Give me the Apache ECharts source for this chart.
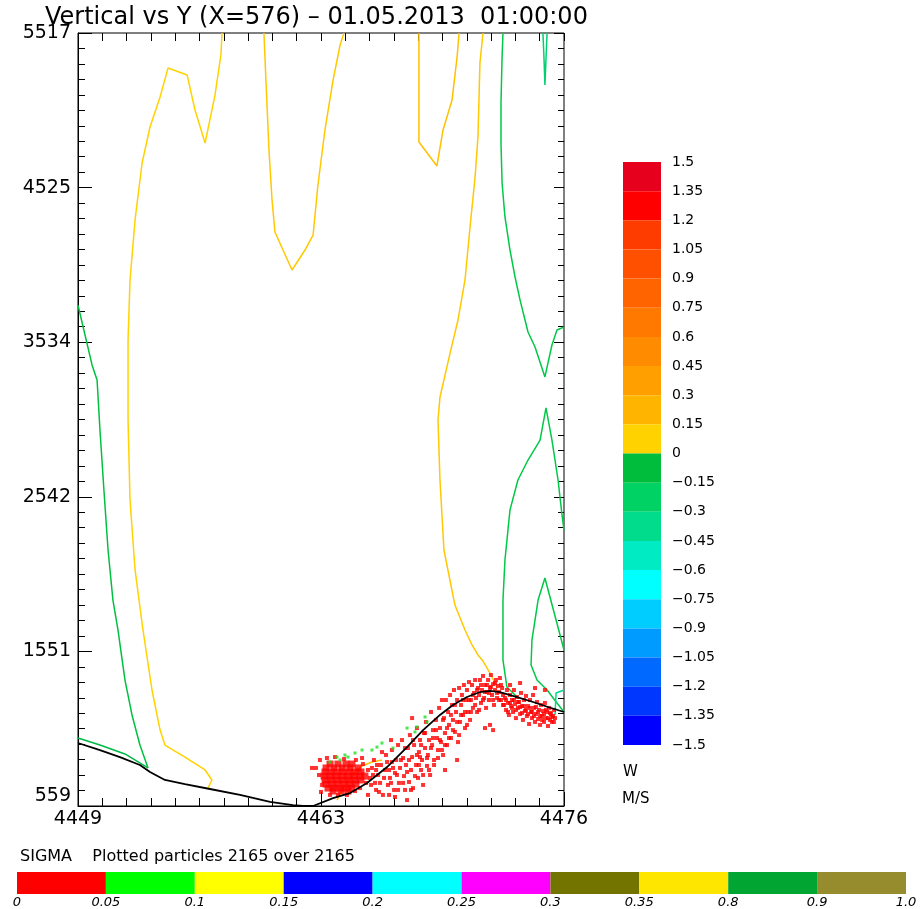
<!DOCTYPE html>
<html><head><meta charset="utf-8">
<script src="https://cdn.jsdelivr.net/npm/echarts@6/dist/echarts.min.js"></script>
<style>html,body{margin:0;padding:0;background:#fff}#c{width:922px;height:909px}</style>
</head><body><div id="c"></div>
<script>
// ---------- axis ranges & tick labels ----------
const X_MIN = 4449, X_MAX = 4476, Y_MIN = 559, Y_MAX = 5517;
const xTickLabels = ['4449', '4463', '4476'];
const yTickLabels = ['559', '1551', '2542', '3534', '4525', '5517'];

// ---------- W colour scale ----------
const cbLevels = [1.5, 1.35, 1.2, 1.05, 0.9, 0.75, 0.6, 0.45, 0.3, 0.15, 0, -0.15, -0.3, -0.45, -0.6, -0.75, -0.9, -1.05, -1.2, -1.35, -1.5];
const cbLabels = ['1.5', '1.35', '1.2', '1.05', '0.9', '0.75', '0.6', '0.45', '0.3', '0.15', '0', '\u22120.15', '\u22120.3', '\u22120.45', '\u22120.6', '\u22120.75', '\u22120.9', '\u22121.05', '\u22121.2', '\u22121.35', '\u22121.5'];
const cbColors = ['#E6001E', '#FF0000', '#FF3C00', '#FF5000', '#FF6400', '#FF7800', '#FF8C00', '#FFA000', '#FFB400', '#FFD200',
                  '#00BE3C', '#00D264', '#00DC8C', '#00EBC3', '#00FFFF', '#00CDFF', '#009BFF', '#0069FF', '#0037FF', '#0000FF'];

// ---------- SIGMA legend ----------
const sigmaLabels = ['0', '0.05', '0.1', '0.15', '0.2', '0.25', '0.3', '0.35', '0.8', '0.9', '1.0'];
const sigmaColors = ['#FF0000', '#00FF00', '#FFFF00', '#0000FF', '#00FFFF', '#FF00FF', '#737300', '#FFE600', '#00A532', '#968C2D'];

// ---------- bottom (terrain) line ----------
const terrain = [[4449,963],[4450.22,918],[4451.33,873],[4452.44,822],[4453.0,777],[4453.83,726],[4454.94,700],[4456.33,668],[4458.0,630],[4459.67,585],[4460.94,565],[4461.5,559],[4462.06,559],[4463.17,610],[4464.11,642],[4465.06,707],[4466.17,809],[4467.28,937],[4468.17,1046],[4469.11,1143],[4469.83,1207],[4470.61,1258],[4471.33,1290],[4471.89,1297],[4472.44,1290],[4473.39,1258],[4474.28,1226],[4475.11,1194],[4476,1162]];

// ---------- W = 0 contours (yellow) ----------
const zeroA = [[4457.0,5517],[4456.94,5376],[4456.61,5119],[4456.06,4811],[4455.5,5023],[4455.06,5248],[4454.0,5292],[4453.56,5107],[4453.0,4914],[4452.56,4683],[4452.17,4318],[4451.89,3933],[4451.78,3548],[4451.78,3035],[4451.89,2522],[4452.17,2073],[4452.61,1688],[4453.11,1303],[4453.56,1046],[4453.83,950],[4454.94,873],[4456.06,790],[4456.44,726],[4456.22,674]];
const zeroB = [[4459.33,5517],[4459.44,5215],[4459.61,4767],[4459.78,4446],[4459.94,4241],[4460.89,3997],[4461.61,4125],[4462.06,4221],[4462.33,4542],[4462.72,4895],[4463.17,5215],[4463.56,5440],[4463.78,5517]];
const zeroC = [[4467.94,5517],[4467.94,4818],[4468.94,4664],[4469.28,4895],[4469.78,5087],[4470.06,5363],[4470.17,5517]];
const zeroD = [[4471.5,5517],[4471.33,5325],[4471.22,4850],[4471.06,4593],[4470.78,4273],[4470.5,3933],[4470.11,3676],[4469.67,3464],[4469.11,3182],[4469.0,3035],[4469.11,2650],[4469.33,2201],[4469.94,1848],[4470.5,1688],[4470.89,1592],[4471.22,1528],[4471.5,1489],[4471.89,1412],[4472.28,1316]];
const zeroE = [[4463.39,597],[4463.67,662],[4464.0,719],[4464.39,777],[4464.78,816],[4465.33,841],[4465.89,854]];

// ---------- W = -0.15 contours (green) ----------
const negBottom = [[4449,995],[4450.22,950],[4451.61,893],[4452.89,803]];
const negA = [[4449,3772],[4449.39,3580],[4449.78,3388],[4450.06,3291],[4450.22,2971],[4450.44,2586],[4450.67,2201],[4450.94,1880],[4451.22,1688],[4451.61,1367],[4452.0,1143],[4452.44,950],[4452.89,803]];
const negB = [[4472.61,5517],[4472.56,5363],[4472.5,5068],[4472.5,4811],[4472.56,4555],[4472.72,4337],[4473.0,4125],[4473.28,3952],[4473.56,3804],[4474.0,3599],[4474.39,3503],[4474.94,3311],[4475.33,3516],[4475.61,3612],[4476,3631]];
const negC = [[4474.83,5517],[4474.89,5350],[4474.94,5183],[4475.0,5350],[4475.06,5517]];
const negD = [[4476,2329],[4475.89,2425],[4475.67,2650],[4475.33,2906],[4475.0,3112],[4474.67,2906],[4474.0,2778],[4473.44,2650],[4473.0,2458],[4472.72,2137],[4472.61,1880],[4472.61,1495],[4472.83,1322],[4473.39,1258]];
const negE = [[4476,1560],[4475.56,1752],[4474.94,2021],[4474.56,1880],[4474.22,1624],[4474.17,1463],[4474.5,1367],[4475.06,1303],[4475.61,1220],[4476,1162]];
// ---------- W = -0.3 contour (teal) ----------
const negF = [[4476,1303],[4475.56,1284],[4475.5,1143]];

// ---------- particles ----------
const particlesCore = [[4463.0,828],[4463.44,828],[4463.89,828],[4464.22,828],
 [4462.78,803],[4463.22,803],[4463.67,803],[4464.11,803],[4464.56,803],
 [4462.72,777],[4463.06,777],[4463.39,777],[4463.72,777],[4464.06,777],[4464.39,777],[4464.72,777],
 [4462.67,751],[4463.0,751],[4463.33,751],[4463.67,751],[4464.0,751],[4464.33,751],[4464.67,751],[4464.94,751],
 [4462.72,726],[4463.06,726],[4463.39,726],[4463.72,726],[4464.06,726],[4464.39,726],[4464.72,726],
 [4462.78,700],[4463.11,700],[4463.44,700],[4463.78,700],[4464.11,700],[4464.44,700],
 [4462.89,674],[4463.22,674],[4463.56,674],[4463.89,674],[4464.22,674],
 [4463.17,655],[4463.61,655],[4464.0,655]];
const particlesRed = [
 [4462.22,803],[4462.44,854],[4462.56,694],[4462.5,649],[4462.83,867],[4463.28,873],[4463.78,860],[4464.44,854],[4464.83,828],[4465.11,790],[4465.0,707],[4464.67,674],[4464.39,655],[4463.94,630],[4463.44,630],[4463.0,630],[4462.39,758],[4464.78,867],[4465.22,739],[4465.33,803],[4462.0,803],
 [4465.44,854],[4465.56,662],[4465.67,758],[4465.78,707],[4465.89,905],[4465.94,630],[4466.06,790],[4466.17,841],[4466.22,694],[4466.33,739],[4466.44,918],[4466.5,803],[4466.56,662],[4466.67,854],[4466.72,758],[4466.78,950],[4466.83,707],[4466.89,803],[4465.56,790],[4465.83,822],[4466.28,630],[4466.61,617],[4466.39,982],
 [4467.0,982],[4467.06,867],[4467.11,751],[4467.17,662],[4467.22,822],[4467.33,931],[4467.39,713],[4467.44,1014],[4467.5,790],[4467.56,873],[4467.61,674],[4467.67,950],[4467.78,822],[4467.83,1059],[4467.89,739],[4467.94,905],[4468.0,982],[4468.06,790],[4468.11,854],[4468.17,694],[4468.22,1027],[4468.28,931],[4468.33,1098],[4468.39,816],[4468.44,886],[4468.5,982],[4468.56,758],[4467.56,1123],[4468.0,873],[4467.28,597],
 [4468.61,1162],[4468.67,950],[4468.72,1046],[4468.78,854],[4468.89,1111],[4468.94,995],[4469.0,918],[4469.06,1188],[4469.11,1059],[4469.17,969],[4469.22,1239],[4469.28,886],[4469.33,1123],[4469.39,1027],[4469.44,1239],[4469.5,950],[4469.56,1162],[4469.61,1079],[4469.67,1271],[4469.72,995],[4469.78,1207],[4469.83,1111],[4469.89,1303],[4469.94,1034],[4470.0,1162],[4470.06,1239],[4470.11,969],[4470.17,1316],[4470.22,1098],[4470.28,1207],[4470.33,1271],[4470.39,1143],[4470.44,1335],[4470.5,1059],[4470.56,1239],[4470.61,1303],[4470.67,1162],[4470.72,1354],[4470.78,1111],[4470.06,854],[4469.39,790],
 [4470.83,1239],[4470.89,1335],[4470.94,1188],[4471.0,1284],[4471.06,1367],[4471.11,1252],[4471.17,1162],[4471.22,1316],[4471.28,1271],[4471.33,1367],[4471.39,1220],[4471.44,1303],[4471.5,1393],[4471.56,1252],[4471.61,1335],[4471.67,1188],[4471.72,1290],[4471.78,1367],[4471.83,1239],[4471.89,1316],[4471.94,1399],[4472.0,1271],[4472.06,1341],[4472.11,1207],[4472.17,1303],[4472.22,1367],[4472.28,1252],[4472.33,1329],[4472.39,1290],[4472.44,1380],[4472.5,1239],[4472.56,1316],[4472.61,1207],[4471.89,1079],[4471.61,1059],[4472.06,1046],
 [4472.72,1252],[4472.78,1175],[4472.83,1303],[4472.89,1220],[4472.94,1143],[4473.0,1271],[4473.06,1200],[4473.11,1239],[4473.17,1162],[4473.22,1303],[4473.28,1213],[4473.33,1123],[4473.39,1258],[4473.44,1188],[4473.5,1226],[4473.56,1149],[4473.61,1284],[4473.67,1200],[4473.72,1111],[4473.78,1239],[4473.83,1168],[4473.89,1265],[4473.94,1136],[4474.0,1200],[4474.06,1085],[4474.11,1239],[4474.17,1162],[4474.22,1123],[4474.28,1271],[4474.33,1188],[4474.39,1098],[4474.44,1149],[4474.5,1226],[4474.56,1117],[4474.61,1175],[4474.67,1079],[4474.72,1207],[4474.78,1136],[4474.83,1168],[4474.89,1098],[4474.94,1220],[4475.0,1123],[4475.06,1162],[4475.11,1072],[4475.17,1188],[4475.22,1111],[4475.28,1149],[4475.33,1098],[4475.39,1136],[4475.44,1175],[4475.5,1123],[4473.56,1348],[4474.39,1316],[4474.94,1303],[4473.0,1335],
 [4465.11,630],[4465.28,694],[4465.39,758],[4465.5,707],[4465.61,822],[4465.72,649],[4466.0,739],[4466.11,886],[4466.28,790],[4466.39,707],[4466.44,841],[4466.61,771],[4466.78,662],[4466.94,854],[4467.06,707],[4467.17,931],[4467.28,777],[4467.39,854],[4467.5,662],[4467.61,982],[4467.72,751],[4467.83,886],[4467.94,822],[4468.06,950],[4468.17,758],[4468.28,1027],[4468.39,867],[4468.5,790],[4468.61,931],[4468.72,995],[4468.78,822],[4468.89,1046],[4469.0,867],[4469.11,982],[4469.22,918],[4469.28,1111],[4469.39,950],[4469.5,1059],[4469.61,995],[4469.72,1143],[4469.83,1046],[4469.94,1207],[4470.06,1098],[4470.17,1014],[4470.28,1143],[4470.39,1239],[4470.5,1162],[4470.61,1079],[4470.72,1239],[4470.83,1162],[4470.94,1271],[4471.06,1207],[4471.17,1303],[4471.28,1175],[4471.39,1335],[4471.5,1239],[4471.61,1290],[4471.72,1335],[4471.83,1284],[4471.94,1322],[4472.06,1239],[4472.17,1348],[4472.28,1284],[4472.39,1239],[4472.5,1335],[4472.61,1271],
 [4472.67,1207],[4472.78,1239],[4472.89,1162],[4473.0,1220],[4473.11,1188],[4473.22,1239],[4473.33,1175],[4473.44,1226],[4473.56,1194],[4473.67,1156],[4473.78,1200],[4473.89,1175],[4474.0,1149],[4474.11,1188],[4474.22,1162],[4474.33,1136],[4474.44,1194],[4474.56,1162],[4474.67,1136],[4474.78,1111],[4474.89,1149],[4475.0,1175],[4475.11,1123],[4475.22,1156],[4475.33,1130],[4475.44,1098]
];
const particlesGreen = [[4463.39,873],[4463.56,854],[4464.0,873],[4464.39,899],[4464.78,918],[4465.33,918],[4465.61,937],[4465.89,963],[4466.5,931],[4467.28,1059],[4467.72,1034],[4467.83,1066],[4468.28,1130],[4468.39,1098],[4463.0,841],[4463.83,886]];

// ---------- chart ----------
const FONT = 'DejaVu Sans';
const xMinor = Array.from({length: 21}, (_, i) => X_MIN + i * (X_MAX - X_MIN) / 20);
const xMajor = xTickLabels.map((_, i) => X_MIN + i * (X_MAX - X_MIN) / 2);
const yMinor = Array.from({length: 51}, (_, i) => Y_MIN + i * (Y_MAX - Y_MIN) / 50);
const yMajor = yTickLabels.map((_, i) => Y_MIN + i * (Y_MAX - Y_MIN) / 5);
const nearest = (arr, v) => { let b = 0; arr.forEach((a, i) => { if (Math.abs(a - v) < Math.abs(arr[b] - v)) b = i; }); return b; };

function tickAxis(pos, min, max, ticks, len, extra) {
  return Object.assign({
    type: 'value', gridIndex: 0, position: pos, min: min, max: max,
    splitLine: {show: false},
    axisLine: {show: false},
    axisLabel: {show: false},
    axisTick: {show: true, inside: true, length: len, customValues: ticks, lineStyle: {color: '#000', width: 1}}
  }, extra || {});
}

function line(data, color, width, z) {
  return {type: 'line', xAxisIndex: 0, yAxisIndex: 0, data: data, showSymbol: false, symbol: 'none',
          lineStyle: {color: color, width: width || 1.5}, z: z || 3, animation: false, silent: true};
}

const option = {
  animation: false,
  backgroundColor: '#fff',
  title: [
    {text: 'Vertical vs Y (X=576) \u2013 01.05.2013  01:00:00', left: 45, top: 6, padding: 0,
     textStyle: {fontFamily: FONT, fontSize: 24, fontWeight: 'normal', color: '#000'}},
    {text: 'W', left: 623, top: 765, padding: 0, textStyle: {fontFamily: FONT, fontSize: 15, fontWeight: 'normal', color: '#000'}},
    {text: 'M/S', left: 622, top: 792, padding: 0, textStyle: {fontFamily: FONT, fontSize: 15, fontWeight: 'normal', color: '#000'}},
    {text: 'SIGMA    Plotted particles 2165 over 2165', left: 20, top: 849, padding: 0,
     textStyle: {fontFamily: FONT, fontSize: 16, fontWeight: 'normal', color: '#000'}}
  ],
  grid: [
    {left: 78, top: 33, width: 486, height: 773, show: true, borderColor: '#000', borderWidth: 1, backgroundColor: '#fff'},
    {left: 623, top: 162, width: 38, height: 583, show: false},
    {left: 17, top: 872, width: 889, height: 24, show: false}
  ],
  xAxis: [
    tickAxis('bottom', X_MIN, X_MAX, xMinor, 8, {
      axisLine: {show: true, onZero: false, lineStyle: {color: '#000', width: 1}},
      axisLabel: {show: true, customValues: xMajor, margin: 4, fontFamily: FONT, fontSize: 19, color: '#000',
                  formatter: v => xTickLabels[nearest(xMajor, v)]}
    }),
    tickAxis('bottom', X_MIN, X_MAX, xMajor, 14),
    tickAxis('top', X_MIN, X_MAX, xMinor, 8),
    {type: 'value', gridIndex: 1, min: 0, max: 1, show: false},
    {type: 'value', gridIndex: 2, min: 0, max: 10, position: 'bottom',
     axisLine: {show: false}, axisTick: {show: false}, splitLine: {show: false},
     axisLabel: {show: true, customValues: sigmaLabels.map((_, i) => i), margin: 2, fontFamily: FONT, fontSize: 13,
                 fontStyle: 'italic', color: '#000', formatter: v => sigmaLabels[Math.round(v)]}}
  ],
  yAxis: [
    tickAxis('left', Y_MIN, Y_MAX, yMinor, 7, {
      axisLine: {show: true, onZero: false, lineStyle: {color: '#000', width: 1}},
      axisLabel: {show: true, customValues: yMajor, margin: 7, fontFamily: FONT, fontSize: 19, color: '#000',
                  verticalAlignMinLabel: 'bottom',
                  formatter: v => yTickLabels[nearest(yMajor, v)]}
    }),
    tickAxis('right', Y_MIN, Y_MAX, yMinor, 6),
    tickAxis('left', Y_MIN, Y_MAX, yMajor, 14),
    tickAxis('right', Y_MIN, Y_MAX, yMajor, 10),
    {type: 'value', gridIndex: 1, min: -1.5, max: 1.5, position: 'right',
     axisLine: {show: false}, axisTick: {show: false}, splitLine: {show: false},
     axisLabel: {show: true, customValues: cbLevels, margin: 11, fontFamily: FONT, fontSize: 14, color: '#000',
                 padding: [0, 0, 6, 0], formatter: v => cbLabels[nearest(cbLevels, v)]}},
    {type: 'value', gridIndex: 2, min: 0, max: 1, show: false}
  ],
  series: [
    line(zeroE, '#FFC000', 1.5, 2),
    {type: 'scatter', xAxisIndex: 0, yAxisIndex: 0, data: particlesCore, symbol: 'rect', symbolSize: 7,
     itemStyle: {color: '#FF0000'}, z: 4, silent: true},
    {type: 'scatter', xAxisIndex: 0, yAxisIndex: 0, data: particlesRed, symbol: 'rect', symbolSize: 4,
     itemStyle: {color: '#FF0000'}, z: 4, silent: true},
    {type: 'scatter', xAxisIndex: 0, yAxisIndex: 0, data: particlesGreen, symbol: 'rect', symbolSize: 3,
     itemStyle: {color: '#22E022'}, z: 4, silent: true},
    line(zeroA, '#FFD200'),
    line(zeroB, '#FFC800'),
    line(zeroC, '#FFC000'),
    line(zeroD, '#FFC800'),
    line(negBottom, '#00B848'),
    line(negA, '#00C040'),
    line(negB, '#00C848'),
    line(negC, '#00D070'),
    line(negD, '#00C848'),
    line(negE, '#00C848'),
    line(negF, '#00D890'),
    line(terrain, '#000000', 1.8, 6),
    {type: 'line', xAxisIndex: 3, yAxisIndex: 4, data: [[0, 0]], showSymbol: false, lineStyle: {width: 0}, silent: true,
     markArea: {silent: true, data: cbColors.map((c, i) => [{yAxis: cbLevels[i], itemStyle: {color: c, opacity: 1, borderWidth: 0}}, {yAxis: cbLevels[i + 1]}])}},
    {type: 'line', xAxisIndex: 4, yAxisIndex: 5, data: [[0, 0]], showSymbol: false, lineStyle: {width: 0}, silent: true,
     markArea: {silent: true, data: sigmaColors.map((c, i) => [{xAxis: i, itemStyle: {color: c, opacity: 1, borderWidth: 0}}, {xAxis: i + 1}])}}
  ]
};
const chart = echarts.init(document.getElementById('c'), null, {renderer: 'canvas'});
chart.setOption(option);
</script>
</body></html>
